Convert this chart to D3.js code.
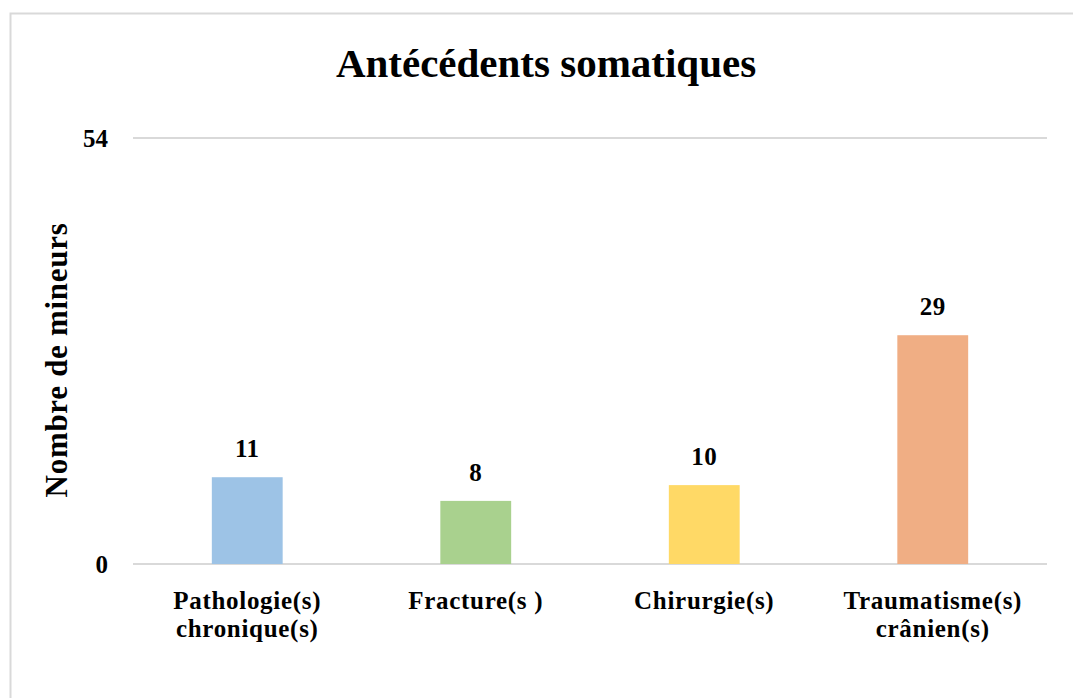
<!DOCTYPE html>
<html><head><meta charset="utf-8">
<script src="https://cdn.jsdelivr.net/npm/d3@7"></script>
<style>body{margin:0;background:#fff}svg{display:block}</style>
</head><body>
<script>
const categories = [["Pathologie(s)","chronique(s)"],["Fracture(s )"],["Chirurgie(s)"],["Traumatisme(s)","crânien(s)"]];
const values = [11, 8, 10, 29];
const colors = ["#9DC3E6", "#A9D18E", "#FFD966", "#F0AE84"];
const yTicks = [0, 54];
const title = "Antécédents somatiques";
const yTitle = "Nombre de mineurs";

const W = 1073, H = 698;
const svg = d3.select("body").append("svg").attr("width", W).attr("height", H);
const font = "'Liberation Serif','Times New Roman',serif";

svg.append("rect").attr("x", 10.5).attr("y", 13.5).attr("width", W + 20).attr("height", H + 20)
  .attr("fill", "#fff").attr("stroke", "#d9d9d9").attr("stroke-width", 2);

const m = {left: 133, right: 1047, top: 138, bottom: 564};
const idx = d3.range(values.length);
const x = d3.scaleBand().domain(idx).range([m.left, m.right]).paddingInner(0.69).paddingOuter(0.345);
const y = d3.scaleLinear().domain([0, 54]).range([m.bottom, m.top]);

svg.append("text").attr("x", 546).attr("y", 77).attr("text-anchor", "middle")
  .attr("font-family", font).attr("font-weight", "bold").attr("font-size", 41).text(title);

// gridlines
svg.append("g").selectAll("line").data(yTicks).join("line")
  .attr("x1", m.left).attr("x2", m.right)
  .attr("y1", d => y(d)).attr("y2", d => y(d))
  .attr("stroke", "#d9d9d9").attr("stroke-width", 2);

const yAxis = svg.append("g").attr("transform", `translate(${m.left},0)`)
  .call(d3.axisLeft(y).tickValues(yTicks).tickSize(0).tickPadding(25));
yAxis.select(".domain").remove();
yAxis.selectAll("text").attr("font-family", font).attr("font-weight", "bold")
  .attr("font-size", 25).attr("fill", "#000");

svg.append("g").selectAll("rect").data(idx).join("rect")
  .attr("x", i => x(i)).attr("width", x.bandwidth())
  .attr("y", i => y(values[i])).attr("height", i => y(0) - y(values[i]))
  .attr("fill", i => colors[i]);

svg.append("g").selectAll("text").data(idx).join("text")
  .attr("x", i => x(i) + x.bandwidth() / 2).attr("y", i => y(values[i]) - 20)
  .attr("text-anchor", "middle").attr("font-family", font).attr("font-weight", "bold")
  .attr("font-size", 25).attr("letter-spacing", 0.5).text(i => values[i]);

const xl = svg.append("g");
idx.forEach(i => {
  const t = xl.append("text").attr("x", x(i) + x.bandwidth() / 2).attr("y", 609)
    .attr("text-anchor", "middle").attr("font-family", font).attr("font-weight", "bold")
    .attr("font-size", 25).attr("letter-spacing", 0.7);
  categories[i].forEach((line, k) => t.append("tspan").attr("x", x(i) + x.bandwidth() / 2)
    .attr("dy", k === 0 ? 0 : 28).text(line));
});

svg.append("text").attr("transform", "translate(67,360) rotate(-90)").attr("text-anchor", "middle")
  .attr("font-family", font).attr("font-weight", "bold").attr("font-size", 31)
  .attr("letter-spacing", 0.7).text(yTitle);
</script>
</body></html>
